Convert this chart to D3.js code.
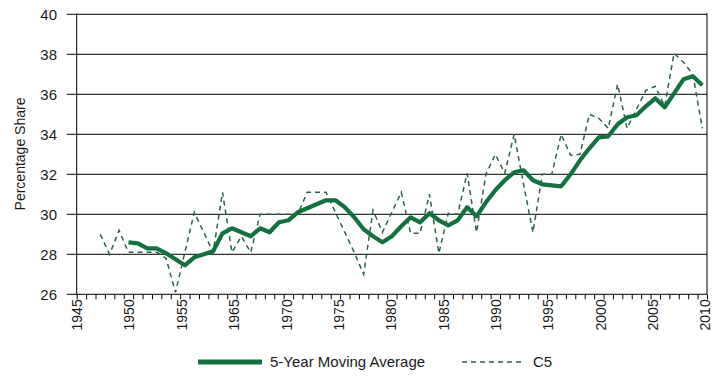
<!DOCTYPE html>
<html>
<head>
    <meta charset="utf-8">
    <title>Percentage Share C5</title>
    <style>
        html, body {
            margin: 0;
            padding: 0;
            background: #fff;
        }
        svg {
            display: block;
        }
        text {
            font-family: Arial, "Liberation Sans", sans-serif;
            fill: #1a1a1a;
        }
    </style>
    <script src="https://cdn.jsdelivr.net/npm/d3@7"></script>
</head>
<body>
<svg id="chart"></svg>
<script>
// category axis runs 1944..2010, one slot per year
const firstYear = 1944;
const lastYear = 2010;
const xLabels = ["1945", "1950", "1955", "1965", "1970", "1975", "1980",
                 "1985", "1990", "1995", "2000", "2005", "2010"];
const yTicks = [26, 28, 30, 32, 34, 36, 38, 40];

// C5, 1946..2010
const c5Start = 1946;
const c5Values = [29.0, 28.0, 29.2, 28.1, 28.1, 28.1, 28.1, 27.8, 26.1, 28.1,
                  30.1, 29.1, 28.1, 31.1, 28.1, 28.9, 28.1, 30.0, 30.0, 30.0,
                  30.0, 30.0, 31.1, 31.1, 31.1, 30.1, 29.1, 28.1, 27.0, 30.2,
                  29.1, 30.1, 31.1, 29.05, 29.05, 31.0, 28.05, 30.05, 30.0, 32.05,
                  29.1, 32.0, 33.0, 32.05, 34.0, 31.5, 29.1, 32.0, 32.0, 34.0,
                  32.95, 33.0, 35.0, 34.8, 34.3, 36.5, 34.3, 35.25, 36.2, 36.4,
                  35.4, 38.05, 37.6, 37.0, 34.3];

// 5-year moving average, 1949..2010
const maStart = 1949;
const maValues = [28.6, 28.55, 28.3, 28.3, 28.05, 27.75, 27.45, 27.85, 28.0, 28.15,
                  29.05, 29.3, 29.1, 28.9, 29.3, 29.1, 29.6, 29.7, 30.1, 30.3,
                  30.5, 30.7, 30.7, 30.35, 29.85, 29.25, 28.9, 28.6, 28.9, 29.4,
                  29.85, 29.6, 30.05, 29.7, 29.45, 29.7, 30.35, 29.9, 30.6, 31.2,
                  31.7, 32.1, 32.2, 31.7, 31.5, 31.45, 31.4, 32.0, 32.7, 33.3,
                  33.85, 33.9, 34.5, 34.85, 34.95, 35.4, 35.8, 35.35, 36.05, 36.75,
                  36.9, 36.45];

const seriesNames = ["5-Year Moving Average", "C5"];

const width = 725, height = 377;
const plotLeft = 76.7, plotRight = 707, plotTop = 14.3, plotBottom = 294.3;
const maColor = "#13703f";
const c5Color = "#2c6347";

const svg = d3.select("#chart")
    .attr("width", width)
    .attr("height", height);

const x = d3.scaleLinear()
    .domain([firstYear - 0.5, lastYear + 0.5])
    .range([plotLeft, plotRight]);
const xLab = d3.scalePoint()
    .domain(xLabels)
    .range([plotLeft, 705]);
const y = d3.scaleLinear()
    .domain([26, 40])
    .range([plotBottom, plotTop]);

// gridlines (they run out past the axis as the y ticks)
svg.append("g")
    .selectAll("line")
    .data(yTicks)
    .enter()
    .append("line")
    .attr("x1", plotLeft - 10)
    .attr("x2", plotRight)
    .attr("y1", d => y(d))
    .attr("y2", d => y(d))
    .attr("stroke", "#000")
    .attr("stroke-width", 1);

// y labels
svg.append("g")
    .selectAll("text")
    .data(yTicks)
    .enter()
    .append("text")
    .attr("x", 57)
    .attr("y", d => y(d))
    .attr("dy", "0.36em")
    .attr("text-anchor", "end")
    .attr("font-size", "15px")
    .text(d => d);

// plot frame left / right
svg.append("line")
    .attr("x1", plotLeft).attr("x2", plotLeft)
    .attr("y1", plotTop - 1).attr("y2", plotBottom)
    .attr("stroke", "#000");
svg.append("line")
    .attr("x1", plotRight).attr("x2", plotRight)
    .attr("y1", plotTop - 1).attr("y2", plotBottom)
    .attr("stroke", "#000");

// minor ticks, one per year slot
const xAxis = svg.append("g")
    .attr("transform", "translate(0," + plotBottom + ")")
    .call(d3.axisBottom(x)
        .tickValues(d3.range(firstYear - 0.5, lastYear + 1, 1))
        .tickFormat("")
        .tickSize(5)
        .tickSizeOuter(0));
xAxis.select(".domain").remove();
xAxis.selectAll(".tick line").attr("stroke", "#000");

// year labels
const labAxis = svg.append("g")
    .attr("transform", "translate(0," + (plotBottom + 5) + ")")
    .call(d3.axisBottom(xLab).tickSize(0));
labAxis.select(".domain").remove();
labAxis.selectAll("text")
    .attr("transform", "rotate(-90)")
    .attr("x", 0)
    .attr("y", 0)
    .attr("dy", "0.35em")
    .attr("text-anchor", "end")
    .attr("font-size", "14px")
    .attr("font-family", "Arial, 'Liberation Sans', sans-serif")
    .attr("fill", "#1a1a1a");

// axis title
svg.append("text")
    .attr("transform", "translate(25,154) rotate(-90)")
    .attr("text-anchor", "middle")
    .attr("font-size", "14px")
    .text("Percentage Share");

const line = d3.line()
    .x(d => x(d.year))
    .y(d => y(d.value));

const c5Data = c5Values.map((v, i) => ({ year: c5Start + i, value: v }));
const maData = maValues.map((v, i) => ({ year: maStart + i, value: v }));

svg.append("path")
    .datum(c5Data)
    .attr("d", line)
    .attr("fill", "none")
    .attr("stroke", c5Color)
    .attr("stroke-width", 1.5)
    .attr("stroke-dasharray", "5,4");

svg.append("path")
    .datum(maData)
    .attr("d", line)
    .attr("fill", "none")
    .attr("stroke", maColor)
    .attr("stroke-width", 4.2)
    .attr("stroke-linejoin", "round");

// legend
const legend = svg.append("g");
legend.append("line")
    .attr("x1", 198).attr("x2", 262)
    .attr("y1", 362).attr("y2", 362)
    .attr("stroke", maColor)
    .attr("stroke-width", 5);
legend.append("text")
    .attr("x", 270).attr("y", 362)
    .attr("dy", "0.36em")
    .attr("font-size", "15px")
    .text(seriesNames[0]);
legend.append("line")
    .attr("x1", 462).attr("x2", 524)
    .attr("y1", 362).attr("y2", 362)
    .attr("stroke", c5Color)
    .attr("stroke-width", 1.5)
    .attr("stroke-dasharray", "5,4");
legend.append("text")
    .attr("x", 533).attr("y", 362)
    .attr("dy", "0.36em")
    .attr("font-size", "15px")
    .text(seriesNames[1]);
</script>
</body>
</html>
